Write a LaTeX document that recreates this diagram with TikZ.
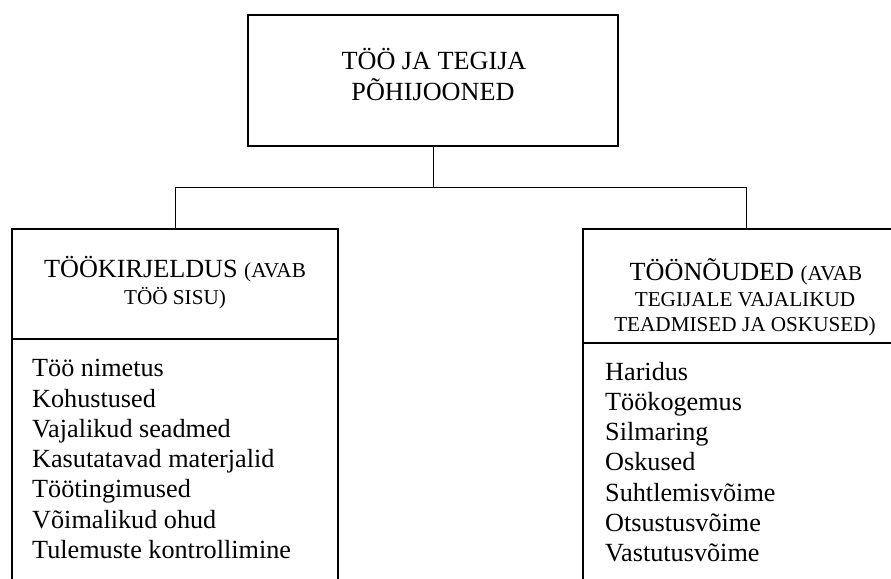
\documentclass[tikz,border=0pt]{standalone}
\usepackage{fontspec}
\setmainfont{Liberation Serif}
\newcommand{\bigfs}{\fontsize{26.2}{30.3}\selectfont}
\newcommand{\smfs}{\fontsize{21.2}{25.5}\selectfont}
\begin{document}
\begin{tikzpicture}[x=1pt,y=-1pt,
  boxstyle/.style={draw, line width=1.8pt, inner sep=0pt, rectangle},
  conn/.style={line width=1pt},
  headtxt/.style={inner sep=0pt, anchor=base},
  itemtxt/.style={inner sep=0pt, anchor=base west, font=\bigfs}]
\useasboundingbox (0,0) rectangle (891,578);
\clip (0,0) rectangle (891,578);
% top box
\node[boxstyle, minimum width=370pt, minimum height=131pt] (top) at (433,80.5) {};
\node[headtxt, font=\bigfs] (t1) at (434,70) {TÖÖ JA TEGIJA};
\node[headtxt, font=\bigfs] (t2) at (433,100.7) {PÕHIJOONED};
% lower boxes
\node[boxstyle, minimum width=326pt, minimum height=420pt] (lbox) at (175,439) {};
\node[boxstyle, minimum width=326pt, minimum height=420pt] (rbox) at (746,439) {};
\draw[line width=1.8pt] (lbox.west |- 0,339) coordinate (ldl) -- (lbox.east |- 0,339) coordinate (ldr);
\draw[line width=1.8pt] (rbox.west |- 0,343) coordinate (rdl) -- (rbox.east |- 0,343) coordinate (rdr);
% connectors
\coordinate (j) at (433,187);
\coordinate (jl) at (lbox.north |- j);
\coordinate (jr) at (rbox.north |- j);
\draw[conn] (top.south) -- (j);
\draw[conn] (lbox.north) -- (jl) -- (jr) -- (rbox.north);
% left heading
\node[headtxt] (lh1) at (175,277.3) {\bigfs TÖÖKIRJELDUS \smfs(AVAB};
\node[headtxt] (lh2) at (175,304) {\smfs TÖÖ SISU)};
% right heading
\node[headtxt] (rh1) at (746,280.7) {\bigfs TÖÖNÕUDED \smfs(AVAB};
\node[headtxt] (rh2) at (745,306.2) {\smfs TEGIJALE VAJALIKUD};
\node[headtxt] (rh3) at (745,331.7) {\smfs TEADMISED JA OSKUSED)};
% left list
\foreach \t [count=\i] in {Töö nimetus, Kohustused, Vajalikud seadmed, Kasutatavad materjalid, Töötingimused, Võimalikud ohud, Tulemuste kontrollimine}
  \node[itemtxt] (li\i) at (32,{376.7+30.3*(\i-1)}) {\t};
% right list
\foreach \t [count=\i] in {Haridus, Töökogemus, Silmaring, Oskused, Suhtlemisvõime, Otsustusvõime, Vastutusvõime}
  \node[itemtxt] (ri\i) at (605,{380+30.3*(\i-1)}) {\t};
\end{tikzpicture}
\end{document}
